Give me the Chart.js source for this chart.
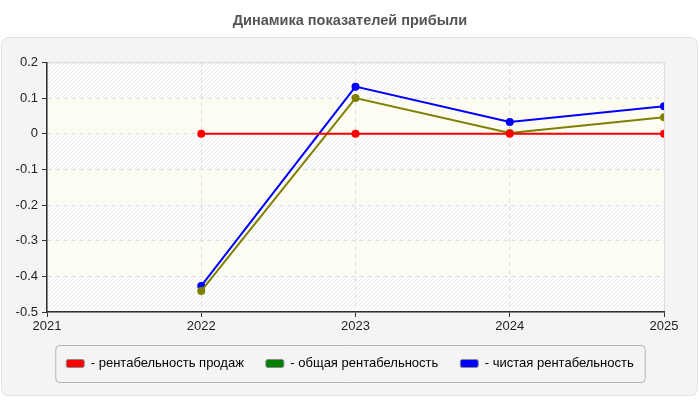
<!DOCTYPE html>
<html>
<head>
<meta charset="utf-8">
<script src="https://cdn.jsdelivr.net/npm/chart.js@4.4.1/dist/chart.umd.min.js"></script>
<style>
  html, body { margin: 0; padding: 0; background: #fff; }
  #wrap { width: 700px; height: 400px; }
</style>
</head>
<body>
<div id="wrap"><canvas id="dyn"></canvas></div>
<script>
const years = [2022, 2023, 2024, 2025];
const salesMargin = [0, 0, 0, 0];
const totalMargin = [-0.441, 0.100, 0.002, 0.046];
const netMargin = [-0.427, 0.132, 0.033, 0.077];
const seriesNames = ['- рентабельность продаж', '- общая рентабельность', '- чистая рентабельность'];
const lineColors = ['#ff0000', '#808000', '#0000ff'];
const legendColors = ['#ff0000', '#008000', '#0000ff'];

function toPoints(vals) {
    return vals.map((v, i) => ({ x: years[i], y: v }));
}

function roundRect(c, x, y, w, h, r) {
    c.beginPath();
    c.moveTo(x + r, y);
    c.lineTo(x + w - r, y);
    c.quadraticCurveTo(x + w, y, x + w, y + r);
    c.lineTo(x + w, y + h - r);
    c.quadraticCurveTo(x + w, y + h, x + w - r, y + h);
    c.lineTo(x + r, y + h);
    c.quadraticCurveTo(x, y + h, x, y + h - r);
    c.lineTo(x, y + r);
    c.quadraticCurveTo(x, y, x + r, y);
    c.closePath();
}

// hatch pattern for plot background
const hatch = document.createElement('canvas');
hatch.width = 4; hatch.height = 4;
const hc = hatch.getContext('2d');
hc.fillStyle = '#ffffff';
hc.fillRect(0, 0, 4, 4);
hc.strokeStyle = '#eaeaea';
hc.lineWidth = 1;
hc.beginPath();
hc.moveTo(0, 4); hc.lineTo(4, 0);
hc.moveTo(-1, 1); hc.lineTo(1, -1);
hc.moveTo(3, 5); hc.lineTo(5, 3);
hc.stroke();

const backdrop = {
    id: 'backdrop',
    beforeDraw(chart) {
        const c = chart.ctx;
        const a = chart.chartArea;
        const ys = chart.scales.y;
        c.save();
        c.fillStyle = '#ffffff';
        c.fillRect(0, 0, chart.width, chart.height);
        roundRect(c, 1.5, 37.5, 696, 358, 8);
        c.fillStyle = '#f4f4f4';
        c.fill();
        c.strokeStyle = '#e2e2e2';
        c.lineWidth = 1;
        c.stroke();
        c.fillStyle = c.createPattern(hatch, 'repeat');
        c.fillRect(a.left, a.top, a.right - a.left, a.bottom - a.top);
        const ticks = ys.ticks.map(t => t.value);
        c.fillStyle = '#fcfcf2';
        for (let i = 0; i < ticks.length - 1; i++) {
            const lo = ticks[i], hi = ticks[i + 1];
            const k = Math.round((hi + 0.5) * 10);
            if (k % 2 === 0) {
                const y1 = ys.getPixelForValue(hi), y2 = ys.getPixelForValue(lo);
                c.fillRect(a.left, y1, a.right - a.left, y2 - y1);
            }
        }
        c.strokeStyle = '#dddddd';
        c.strokeRect(a.left + 0.5, a.top + 0.5, a.right - a.left, a.bottom - a.top);
        c.restore();
    },
    afterDraw(chart) {
        const boxes = chart.legend.legendHitBoxes;
        if (!boxes || !boxes.length) return;
        const c = chart.ctx;
        const left = Math.min(...boxes.map(b => b.left)) - 11;
        const right = Math.max(...boxes.map(b => b.left + b.width)) + 11;
        const top = boxes[0].top - 12;
        const bottom = boxes[0].top + boxes[0].height + 12;
        c.save();
        c.globalCompositeOperation = 'destination-over';
        roundRect(c, left + 0.5, top + 0.5, right - left, bottom - top, 4);
        c.fillStyle = '#fafafa';
        c.fill();
        c.globalCompositeOperation = 'source-over';
        c.strokeStyle = '#b4b4b4';
        c.lineWidth = 1;
        c.stroke();
        c.restore();
    }
};

const makeSet = (i, vals) => ({
    label: seriesNames[i],
    data: toPoints(vals),
    borderColor: lineColors[i],
    backgroundColor: lineColors[i],
    pointBackgroundColor: lineColors[i],
    pointBorderColor: lineColors[i],
    borderWidth: 2,
    pointRadius: 3,
    tension: 0
});

Chart.defaults.font.family = '"Liberation Sans", Arial, sans-serif';

const ctx = document.getElementById('dyn').getContext('2d');
const dynChart = new Chart(ctx, {
    type: 'line',
    data: {
        datasets: [
            makeSet(0, salesMargin),
            makeSet(1, totalMargin),
            makeSet(2, netMargin)
        ]
    },
    plugins: [backdrop],
    options: {
        responsive: true,
        maintainAspectRatio: false,
        animation: false,
        layout: { padding: { left: 0, right: 0, top: 0, bottom: 20 } },
        plugins: {
            title: {
                display: true,
                text: 'Динамика показателей прибыли',
                color: '#555555',
                font: { size: 14.5, weight: 'bold' },
                padding: { top: 12, bottom: 33 }
            },
            legend: {
                position: 'bottom',
                labels: {
                    color: '#333333',
                    font: { size: 13 },
                    boxWidth: 18,
                    boxHeight: 8,
                    padding: 22,
                    useBorderRadius: true,
                    borderRadius: 2,
                    generateLabels(chart) {
                        return chart.data.datasets.map((ds, i) => ({
                            text: ds.label,
                            fillStyle: legendColors[i],
                            strokeStyle: '#8a8a8a',
                            lineWidth: 1,
                            borderRadius: 2,
                            hidden: false,
                            datasetIndex: i
                        }));
                    }
                }
            },
            tooltip: { enabled: false }
        },
        scales: {
            x: {
                type: 'linear',
                min: 2021,
                max: 2025,
                ticks: {
                    stepSize: 1,
                    color: '#222222',
                    font: { size: 13 },
                    padding: 2,
                    callback: v => String(v)
                },
                grid: {
                    color: '#dddddd',
                    tickColor: '#333333',
                    tickLength: 5
                },
                border: { color: '#333333', width: 1.5, dash: [4, 4] },
                afterFit(s) { s.height = 23; }
            },
            y: {
                min: -0.5,
                max: 0.2,
                ticks: {
                    stepSize: 0.1,
                    color: '#222222',
                    font: { size: 13 },
                    padding: 4,
                    callback: v => String(Math.round(v * 10) / 10)
                },
                grid: {
                    color: '#dddddd',
                    tickColor: '#333333',
                    tickLength: 5
                },
                border: { color: '#333333', width: 1.5, dash: [4, 4] },
                afterFit(s) { s.width = 47; }
            },
            // empty right-hand margin so the legend and title stay centred on the page
            spacer: {
                position: 'right',
                display: true,
                min: -0.5,
                max: 0.2,
                ticks: { display: false },
                grid: { display: false, drawTicks: false },
                border: { display: false },
                afterFit(s) { s.width = 36; }
            }
        }
    }
});
</script>
</body>
</html>
